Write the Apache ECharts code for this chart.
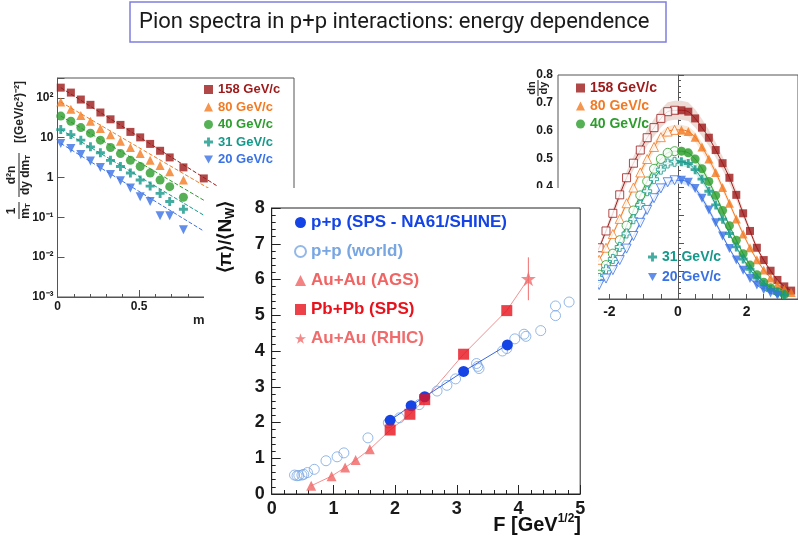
<!DOCTYPE html>
<html>
<head>
<meta charset="utf-8">
<script src="https://cdn.jsdelivr.net/npm/echarts@6/dist/echarts.min.js"></script>
<style>
  html, body { margin: 0; padding: 0; background: #fff; }
  #main { width: 798px; height: 542px; }
</style>
</head>
<body>
<div id="main"></div>
<script>
// ---- data ----
var energies = ['158 GeV/c', '80 GeV/c', '40 GeV/c', '31 GeV/c', '20 GeV/c'];

// left panel: transverse mass spectra
var mtBins = [0.02, 0.082, 0.143, 0.202, 0.263, 0.325, 0.386, 0.447, 0.507, 0.568, 0.629, 0.688, 0.772, 0.897];
var mt158 = [181, 136, 91, 67, 43, 29, 21, 14, 10.2, 7.0, 4.7, 3.2, 1.8, 0.95];
var mt80 = [79, 52, 36, 26, 17, 11.8, 8.1, 5.7, 4.0, 2.7, 2.0, 1.4, 0.87];
var mt40 = [35, 26, 18, 13, 8.7, 5.7, 4.0, 2.7, 1.9, 1.3, 0.87, 0.59, 0.32];
var mt31 = [16, 12, 8.7, 5.9, 4.2, 2.7, 1.9, 1.3, 0.87, 0.61, 0.40, 0.25, 0.16];
var mt20 = [7.2, 5.4, 3.8, 2.6, 1.8, 1.2, 0.83, 0.55, 0.33, 0.25, 0.11, 0.11, 0.049];
var fitX = [0.02, 0.98];
var fitEnd = [0.61, 0.40, 0.17, 0.071, 0.028];

// right panel: rapidity spectra (measured y>0, reflected y<0)
var yBins = [0.1, 0.3, 0.5, 0.7, 0.9, 1.1, 1.3, 1.5, 1.7, 1.9, 2.1, 2.3, 2.5, 2.7, 2.9, 3.1, 3.3];
var dndy158 = [0.674, 0.669, 0.645, 0.612, 0.576, 0.532, 0.485, 0.433, 0.372, 0.306, 0.243, 0.183, 0.139, 0.101, 0.068, 0.045, 0.03];
var dndy80 = [0.604, 0.598, 0.578, 0.543, 0.500, 0.452, 0.398, 0.342, 0.286, 0.232, 0.183, 0.140, 0.104, 0.075, 0.052, 0.035, 0.023];
var dndy40 = [0.528, 0.522, 0.500, 0.465, 0.420, 0.370, 0.316, 0.262, 0.210, 0.162, 0.121, 0.087, 0.060, 0.040, 0.026, 0.016];
var dndy31 = [0.490, 0.484, 0.462, 0.428, 0.385, 0.336, 0.285, 0.234, 0.186, 0.143, 0.106, 0.075, 0.051, 0.034, 0.022, 0.014];
var dndy20 = [0.424, 0.417, 0.395, 0.360, 0.318, 0.272, 0.225, 0.180, 0.139, 0.103, 0.073, 0.050, 0.033, 0.021, 0.013];
var bandRel = [0.05, 0.03, 0.03, 0.03, 0.03];

// centre panel: <pi>/<N_W> vs F
var na61F = [1.92, 2.26, 2.48, 3.11, 3.82];
var na61Pi = [2.06, 2.47, 2.72, 3.43, 4.17];
var worldF = [0.37, 0.41, 0.44, 0.49, 0.52, 0.58, 0.69, 0.88, 1.06, 1.17, 1.56, 1.89, 2.07, 2.39, 2.68, 2.84, 2.98, 3.32, 3.34, 3.36, 3.74, 3.81, 3.94, 4.09, 4.12, 4.36, 4.60, 4.60, 4.82];
var worldPi = [0.53, 0.51, 0.52, 0.53, 0.55, 0.60, 0.69, 0.93, 1.04, 1.15, 1.57, 1.99, 2.13, 2.50, 2.88, 3.04, 3.22, 3.65, 3.57, 3.51, 4.00, 4.07, 4.34, 4.47, 4.41, 4.57, 5.26, 4.99, 5.37];
var agsF = [0.64, 0.97, 1.19, 1.36, 1.59];
var agsPi = [0.23, 0.50, 0.74, 0.95, 1.25];
var spsF = [1.92, 2.24, 2.48, 3.11, 3.81];
var spsPi = [1.79, 2.23, 2.64, 3.91, 5.13];
var rhicF = [4.16];
var rhicPi = [6.02];
var rhicErr = [0.6];

var centreNames = ['p+p (SPS - NA61/SHINE)', 'p+p (world)', 'Au+Au (AGS)', 'Pb+Pb (SPS)', 'Au+Au (RHIC)'];

// ---- styles ----
var FONT = 'Liberation Sans';
var colors = ['#9e1a1a', '#f27a22', '#2c9c2c', '#14998a', '#3a72e6'];
var bandColors = ['#eddcd6', '#fbe7d6', '#ddefd9', '#d7eeea', '#dbe6f8'];
var crossSym = 'path://M3.4,0H6.6V3.4H10V6.6H6.6V10H3.4V6.6H0V3.4H3.4Z';
var downSym = 'path://M0,0H10L5,9Z';
var starSym = 'path://M5,0L6.2,3.6H10L6.9,5.8L8.1,9.5L5,7.2L1.9,9.5L3.1,5.8L0,3.6H3.8Z';
var symbols = ['rect', 'triangle', 'circle', crossSym, downSym];
var symSizes = [8, 9, 9, 9, 9];

function zip(xs, ys) {
  var out = [];
  for (var i = 0; i < ys.length; i++) out.push([xs[i], ys[i]]);
  return out;
}

var chart = echarts.init(document.getElementById('main'));
var series = [];

// left panel series
var mtSpectra = [mt158, mt80, mt40, mt31, mt20];
mtSpectra.forEach(function (vals, i) {
  series.push({
    name: energies[i] + ' fit', type: 'line', xAxisIndex: 0, yAxisIndex: 0, z: 1,
    data: [[fitX[0], vals[0]], [fitX[1], fitEnd[i]]],
    symbol: 'none', silent: true,
    lineStyle: { color: colors[i], width: 1, type: [4, 2] }
  });
  series.push({
    name: energies[i], type: 'scatter', xAxisIndex: 0, yAxisIndex: 0, z: 1,
    data: zip(mtBins, vals), symbol: symbols[i], symbolSize: symSizes[i],
    itemStyle: { color: colors[i] }
  });
});

// right panel series
var dndy = [dndy158, dndy80, dndy40, dndy31, dndy20];
dndy.forEach(function (vals, i) {
  var filled = zip(yBins, vals);
  var open = filled.map(function (p) { return [-p[0], p[1]]; });
  var full = open.slice().reverse().concat(filled);
  var band = full.map(function (p) { return [p[0], p[1] * (1 - bandRel[i]), p[1] * (1 + bandRel[i])]; });
  series.push({
    name: energies[i] + ' band', type: 'custom', xAxisIndex: 2, yAxisIndex: 2, z: 1, silent: true,
    data: [[0, 0]],
    renderItem: function (params, api) {
      var top = band.map(function (b) { return api.coord([b[0], b[2]]); });
      var bot = band.map(function (b) { return api.coord([b[0], b[1]]); }).reverse();
      return { type: 'polygon', shape: { points: top.concat(bot) }, style: { fill: bandColors[i] } };
    }
  });
  series.push({
    name: energies[i] + ' curve', type: 'line', xAxisIndex: 2, yAxisIndex: 2, z: 1,
    data: full, smooth: 0.3, symbol: 'none', silent: true,
    lineStyle: { color: colors[i], width: 1 }
  });
  series.push({
    name: energies[i] + ' refl', type: 'scatter', xAxisIndex: 2, yAxisIndex: 2, z: 1,
    data: open, symbol: symbols[i], symbolSize: symSizes[i],
    itemStyle: { color: '#fff', borderColor: colors[i], borderWidth: 1 }
  });
  series.push({
    name: energies[i], type: 'scatter', xAxisIndex: 2, yAxisIndex: 2, z: 1,
    data: filled, symbol: symbols[i], symbolSize: symSizes[i],
    itemStyle: { color: colors[i] }
  });
});

// centre panel series
var heavy = zip(agsF, agsPi).concat(zip(spsF, spsPi), zip(rhicF, rhicPi));
series.push({
  name: 'heavy-ion line', type: 'line', xAxisIndex: 1, yAxisIndex: 1, z: 4,
  data: heavy, symbol: 'none', silent: true, lineStyle: { color: '#f29090', width: 1 }
});
series.push({
  name: 'RHIC error', type: 'line', xAxisIndex: 1, yAxisIndex: 1, z: 4, symbol: 'none', silent: true,
  data: [[rhicF[0], rhicPi[0] - rhicErr[0]], [rhicF[0], rhicPi[0] + rhicErr[0]]],
  lineStyle: { color: '#f07070', width: 1 }
});
series.push({
  name: centreNames[1], type: 'scatter', xAxisIndex: 1, yAxisIndex: 1, z: 4,
  data: zip(worldF, worldPi), symbol: 'circle', symbolSize: 10,
  itemStyle: { color: 'rgba(255,255,255,0)', borderColor: '#78a6e2', borderWidth: 1 }
});
series.push({
  name: centreNames[0], type: 'line', xAxisIndex: 1, yAxisIndex: 1, z: 5,
  data: zip(na61F, na61Pi), symbol: 'circle', symbolSize: 11, showSymbol: true,
  itemStyle: { color: '#1444e6' }, lineStyle: { color: '#3a66e0', width: 1 }
});
series.push({
  name: centreNames[2], type: 'scatter', xAxisIndex: 1, yAxisIndex: 1, z: 5,
  data: zip(agsF, agsPi), symbol: 'triangle', symbolSize: 10, itemStyle: { color: '#f06464' }
});
series.push({
  name: centreNames[3], type: 'scatter', xAxisIndex: 1, yAxisIndex: 1, z: 5,
  data: zip(spsF, spsPi), symbol: 'rect', symbolSize: 11, itemStyle: { color: '#e8121c' }
});
series.push({
  name: centreNames[4], type: 'scatter', xAxisIndex: 1, yAxisIndex: 1, z: 5,
  data: zip(rhicF, rhicPi), symbol: starSym, symbolSize: 15, itemStyle: { color: '#f06c6c' }
});

function boldLabel(size) {
  return { fontFamily: FONT, fontWeight: 'bold', fontSize: size, color: '#1a1a1a' };
}

function logLabel(v) {
  var l = Math.log10(v), e = Math.round(l);
  if (Math.abs(l - e) > 0.01) return '';
  if (e === 0) return '1';
  if (e === 1) return '10';
  var sup = { '-': '\u207b', '1': '\u00b9', '2': '\u00b2', '3': '\u00b3' };
  return '10' + String(e).split('').map(function (c) { return sup[c]; }).join('');
}

var legendText = { fontFamily: FONT, fontWeight: 'bold' };
function energyLegend(idx, left, top, gap, size) {
  return {
    orient: 'vertical', left: left, top: top, itemGap: gap, itemWidth: 9, itemHeight: 9,
    selectedMode: false, padding: 0,
    textStyle: Object.assign({ fontSize: size, lineHeight: size }, legendText),
    data: idx.map(function (i) {
      return { name: energies[i], icon: symbols[i], textStyle: { color: colors[i] } };
    })
  };
}

var centreColors = ['#1444e6', '#78a6e2', '#f06464', '#e8121c', '#f06c6c'];
var centreIcons = ['circle', 'circle', 'triangle', 'rect', starSym];

var sub = function (size) {
  return { fontFamily: FONT, fontWeight: 'bold', fontSize: size, fill: '#222', verticalAlign: 'bottom' };
};
var txt = function (size) {
  return { fontFamily: FONT, fontWeight: 'bold', fontSize: size, fill: '#222' };
};

var option = {
  backgroundColor: '#fff',
  animation: false,
  grid: [
    { left: 57.5, top: 78, width: 236.5, height: 219, show: true, borderColor: '#555', borderWidth: 1, z: 0 },
    { left: 271.7, top: 208, width: 308.5, height: 286, show: true, borderColor: '#222', borderWidth: 1, z: 3 },
    { left: 558, top: 75, width: 247, height: 224, show: true, borderColor: '#555', borderWidth: 1, z: 0 }
  ],
  xAxis: [
    {
      gridIndex: 0, type: 'value', min: 0, max: 1.45, interval: 0.5,
      axisLine: { lineStyle: { color: '#555' } },
      axisTick: { inside: true, length: 7, lineStyle: { color: '#555' } },
      minorTick: { show: true, splitNumber: 5, length: 3, lineStyle: { color: '#555' } },
      splitLine: { show: false },
      axisLabel: Object.assign({ margin: 4, showMaxLabel: false }, boldLabel(12))
    },
    {
      gridIndex: 1, type: 'value', min: 0, max: 5, interval: 1, z: 3,
      axisLine: { lineStyle: { color: '#222' } },
      axisTick: { inside: true, length: 9, lineStyle: { color: '#222' } },
      minorTick: { show: true, splitNumber: 5, length: 4, lineStyle: { color: '#222' } },
      splitLine: { show: false },
      axisLabel: Object.assign({ margin: 6 }, boldLabel(18))
    },
    {
      gridIndex: 2, type: 'value', min: -3.5, max: 3.5,
      axisLine: { lineStyle: { color: '#555' } },
      axisTick: { inside: true, length: 5, customValues: [-3, -2.5, -2, -1.5, -1, -0.5, 0, 0.5, 1, 1.5, 2, 2.5, 3], lineStyle: { color: '#555' } },
      splitLine: { show: false },
      axisLabel: Object.assign({ margin: 6, customValues: [-2, 0, 2] }, boldLabel(14))
    }
  ],
  yAxis: [
    {
      gridIndex: 0, type: 'log', logBase: 10, min: 0.001, max: 316.2,
      axisLine: { lineStyle: { color: '#555' } },
      axisTick: { inside: true, length: 7, lineStyle: { color: '#555' } },
      splitLine: { show: false },
      axisLabel: Object.assign({ margin: 4, formatter: logLabel }, boldLabel(12))
    },
    {
      gridIndex: 1, type: 'value', min: 0, max: 8, interval: 1, z: 3,
      axisLine: { lineStyle: { color: '#222' } },
      axisTick: { inside: true, length: 9, lineStyle: { color: '#222' } },
      minorTick: { show: true, splitNumber: 5, length: 4, lineStyle: { color: '#222' } },
      splitLine: { show: false },
      axisLabel: Object.assign({ margin: 7 }, boldLabel(18))
    },
    {
      gridIndex: 2, type: 'value', min: 0, max: 0.8, interval: 0.1,
      axisLine: { lineStyle: { color: '#555' } },
      axisTick: { inside: true, length: 6, lineStyle: { color: '#555' } },
      minorTick: { show: true, splitNumber: 5, length: 3, lineStyle: { color: '#555' } },
      splitLine: { show: false },
      axisLabel: Object.assign({ margin: 5 }, boldLabel(12))
    }
  ],
  legend: [
    energyLegend([0, 1, 2, 3, 4], 204, 83, 4.5, 13),
    energyLegend([0, 1, 2], 576, 81, 4, 14),
    energyLegend([3, 4], 648, 250, 6, 14),
    {
      orient: 'vertical', left: 294, top: 214, itemGap: 12, itemWidth: 11, itemHeight: 11,
      selectedMode: false, padding: 0,
      textStyle: Object.assign({ fontSize: 17, lineHeight: 17 }, legendText),
      data: centreNames.map(function (n, i) {
        return { name: n, icon: centreIcons[i], textStyle: { color: centreColors[i] } };
      })
    }
  ],
  graphic: [
    { type: 'rect', z: 1.5, shape: { x: 204, y: 188, width: 394, height: 354 }, style: { fill: '#fff' } },
    { type: 'rect', z: 6, shape: { x: 130, y: 2, width: 536, height: 40 }, style: { fill: 'none', stroke: '#7f7fdf', lineWidth: 1.5 } },
    { type: 'text', z: 6, x: 139, y: 22, style: { text: 'Pion spectra in p+p interactions: energy dependence', fontFamily: 'Roboto', fontSize: 22, fill: '#1a1a1a', verticalAlign: 'middle' } },
    // left panel x title, mostly hidden behind the centre panel
    { type: 'text', z: 1, x: 193, y: 320, style: { text: '{b|m}{s|T}{b| - m}{s|\u03c0}', verticalAlign: 'middle', rich: { b: txt(13), s: sub(9) } } },
    // left panel y title
    {
      type: 'group', x: 19, y: 219, rotation: Math.PI / 2, z: 6,
      children: [
        { type: 'text', x: 8, y: -7, style: Object.assign({ text: '1', align: 'center', verticalAlign: 'middle' }, txt(12)) },
        { type: 'line', shape: { x1: 0, y1: 0, x2: 17, y2: 0 }, style: { stroke: '#222', lineWidth: 1 } },
        { type: 'text', x: 8, y: 7, style: { text: '{b|m}{s|T}', align: 'center', verticalAlign: 'middle', rich: { b: txt(12), s: sub(8) } } },
        { type: 'text', x: 44, y: -7, style: Object.assign({ text: 'd\u00b2n', align: 'center', verticalAlign: 'middle' }, txt(12)) },
        { type: 'text', x: 44, y: 7, style: { text: '{b|dy dm}{s|T}', align: 'center', verticalAlign: 'middle', rich: { b: txt(12), s: sub(8) } } },
        { type: 'line', shape: { x1: 22, y1: 0, x2: 66, y2: 0 }, style: { stroke: '#222', lineWidth: 1 } },
        { type: 'text', x: 107, y: 1, style: Object.assign({ text: '[(GeV/c\u00b2)\u207b\u00b2]', align: 'center', verticalAlign: 'middle' }, txt(12)) }
      ]
    },
    // centre y title
    {
      type: 'text', x: 226, y: 237, rotation: Math.PI / 2, z: 6,
      style: {
        text: '{b|\u27e8\u03c0\u27e9/\u27e8N}{s|W}{b|\u27e9}', align: 'center', verticalAlign: 'middle',
        rich: { b: { fontFamily: FONT, fontWeight: 'bold', fontSize: 19, fill: '#111', lineHeight: 22 }, s: { fontFamily: FONT, fontWeight: 'bold', fontSize: 12, fill: '#111', verticalAlign: 'bottom', lineHeight: 12 } }
      }
    },
    // centre x title
    {
      type: 'text', x: 581, y: 525, z: 6,
      style: {
        text: '{b|F [GeV}{p|1/2}{b|]}', align: 'right', verticalAlign: 'middle',
        rich: { b: { fontFamily: FONT, fontWeight: 'bold', fontSize: 20, fill: '#111', lineHeight: 24 }, p: { fontFamily: FONT, fontWeight: 'bold', fontSize: 12, fill: '#111', verticalAlign: 'top', lineHeight: 12 } }
      }
    },
    // right panel y title
    {
      type: 'group', x: 538, y: 88, rotation: Math.PI / 2, z: 6,
      children: [
        { type: 'text', x: 0, y: -6, style: Object.assign({ text: 'dn', align: 'center', verticalAlign: 'middle' }, txt(11)) },
        { type: 'line', shape: { x1: -8, y1: 0, x2: 8, y2: 0 }, style: { stroke: '#222', lineWidth: 1 } },
        { type: 'text', x: 0, y: 6, style: Object.assign({ text: 'dy', align: 'center', verticalAlign: 'middle' }, txt(11)) }
      ]
    }
  ],
  series: series
};

chart.setOption(option);
</script>
</body>
</html>
